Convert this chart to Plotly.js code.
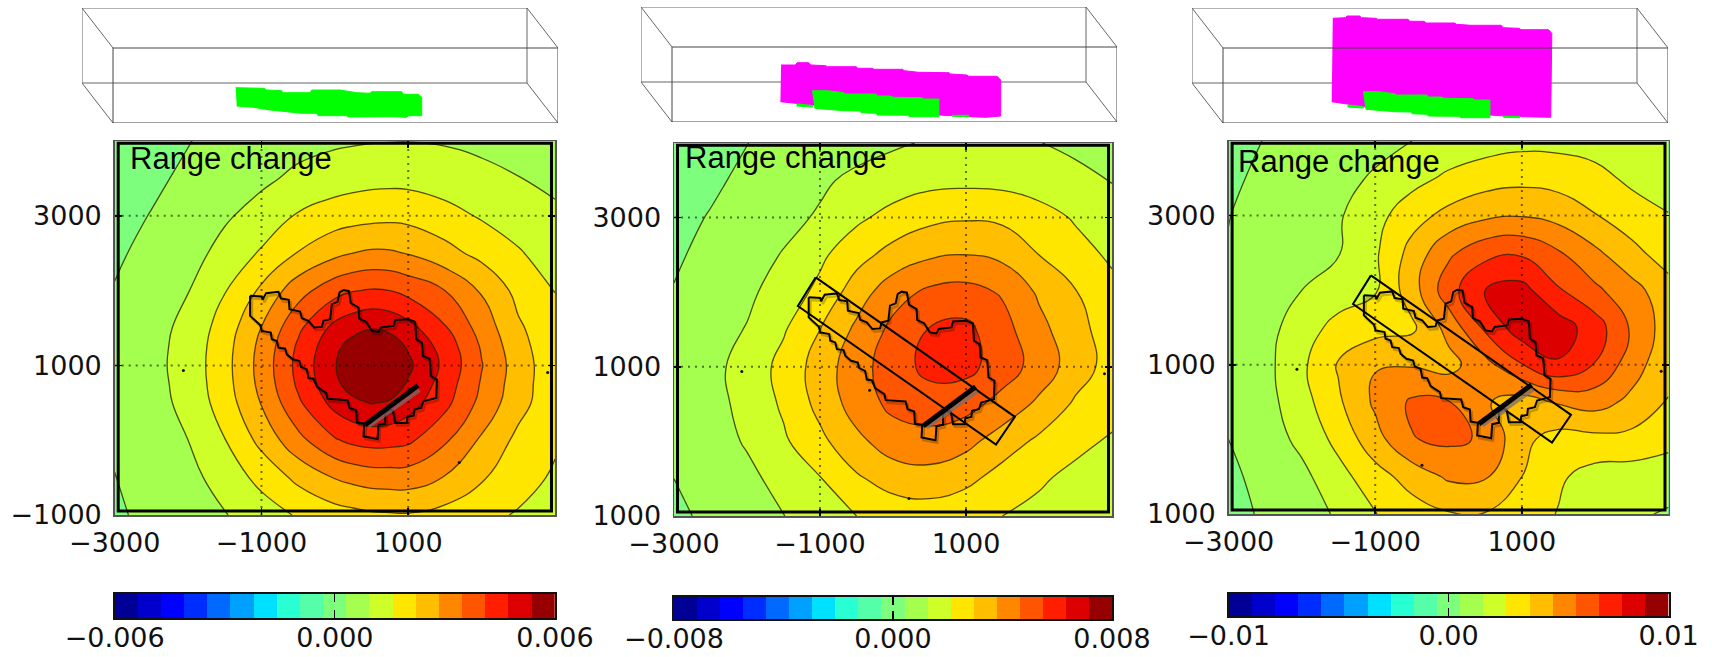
<!DOCTYPE html>
<html><head><meta charset="utf-8">
<style>html,body{margin:0;padding:0;background:#fff}#c{width:1712px;height:657px}</style>
<script src="https://cdn.plot.ly/plotly-3.0.1.min.js"></script>
</head><body><div id="c"></div>
<script>
// ---------- data ----------
const gridX = [-3000,-2500,-2000,-1500,-1000,-500,0,500,1000,1500,2000,2500,3000];
const gridY = [-1000,-500,0,500,1000,1500,2000,2500,3000,3500,4000];
const gridXP1 = [-3000,-2500,-2000,-1500,-1000,-500,0,250,500,750,1000,1500,2000,2500,3000];
const gridYP1 = [-1000,-500,0,500,750,1000,1250,1500,2000,2500,3000,3500,4000];
// values in contour-level units (zero band = 0), converted with each panel's level step
const levelsP1 = [
[0.35,0.75,1.05,1.45,2.0,2.6,3.05,3.2,3.35,3.4,3.42,3.15,2.8,2.4,2.0],
[0.48,0.85,1.2,1.92,2.8,3.75,4.55,4.8,4.97,5.0,5.0,4.45,3.6,2.95,2.35],
[0.62,1.0,1.5,2.47,3.79,5.2,6.4,6.75,6.9,6.85,6.7,5.65,4.35,3.25,2.65],
[0.75,1.1,1.8,2.97,4.56,6.33,7.85,8.3,8.55,8.4,7.95,6.8,5.2,3.85,2.85],
[0.8,1.15,1.87,3.1,4.79,6.67,8.3,8.9,9.25,9.05,8.4,7.05,5.4,3.95,2.85],
[0.85,1.2,1.9,3.15,4.87,6.8,8.45,9.15,9.55,9.35,8.7,7.27,5.55,4.0,2.85],
[0.8,1.17,1.87,3.1,4.78,6.66,8.28,8.87,9.2,9.0,8.4,7.1,5.4,3.85,2.82],
[0.72,1.12,1.79,2.95,4.53,6.3,7.8,8.2,8.45,8.3,7.85,6.6,5.1,3.65,2.8],
[0.55,1.02,1.47,2.45,3.68,5.1,6.15,6.45,6.58,6.5,6.2,5.5,4.4,3.2,2.48],
[0.35,0.78,1.15,1.8,2.62,3.55,4.25,4.5,4.65,4.62,4.45,3.85,3.2,2.6,2.0],
[0.15,0.54,0.95,1.38,1.85,2.6,3.0,3.12,3.2,3.25,3.2,2.85,2.4,2.0,1.7],
[-0.1,0.3,0.7,1.0,1.32,1.7,2.0,2.12,2.2,2.22,2.2,2.0,1.8,1.53,1.25],
[-0.3,0.1,0.47,0.75,1.0,1.2,1.35,1.4,1.45,1.47,1.48,1.42,1.25,1.1,0.95]];
const levelsP2 = [
[0.3,0.7,1.05,1.48,2.0,2.5,2.85,2.98,2.8,2.5,2.2,1.95,1.7],
[0.5,0.9,1.25,1.85,2.45,3.35,3.95,4.1,3.75,3.1,2.65,2.2,1.8],
[0.65,1.05,1.6,2.35,3.25,4.25,5.0,5.15,4.8,4.0,3.3,2.8,2.35],
[0.8,1.15,1.8,2.65,3.8,4.95,5.75,6.0,5.85,5.15,4.3,3.35,2.95],
[0.85,1.2,1.9,2.8,3.95,5.1,6.0,6.8,6.8,6.0,5.1,4.0,3.1],
[0.7,1.1,1.55,2.4,3.5,4.7,5.75,6.55,6.75,5.85,4.8,3.85,3.0],
[0.55,0.95,1.3,1.95,2.75,4.0,5.1,5.7,5.85,5.4,4.35,3.55,2.75],
[0.35,0.8,1.15,1.55,2.3,3.15,3.85,4.35,4.52,4.25,3.5,2.85,2.35],
[0.25,0.55,0.9,1.25,1.6,2.3,2.85,3.25,3.4,3.3,2.9,2.4,2.05],
[0.1,0.35,0.68,0.98,1.35,1.7,1.95,2.2,2.25,2.2,2.0,1.75,1.45],
[0.0,0.25,0.49,0.72,0.95,1.15,1.38,1.58,1.65,1.62,1.52,1.3,1.1]];
const levelsP3 = [
[0.15,0.65,1.15,1.6,2.47,3.05,3.42,3.45,3.0,2.45,2.05,1.65,1.4],
[0.3,0.8,1.25,2.15,3.1,3.9,4.65,4.6,3.5,2.65,2.1,2.0,1.95],
[0.5,1.0,1.75,2.8,4.12,5.45,5.7,5.38,3.75,3.1,3.2,3.2,2.8],
[0.65,1.15,2.1,3.35,4.68,5.65,5.55,4.6,4.05,4.6,4.9,4.25,3.45],
[0.7,1.2,2.3,3.6,4.45,4.42,4.15,5.15,6.45,7.4,6.45,4.95,3.8],
[0.7,1.15,2.0,2.85,3.1,3.3,4.85,6.7,8.1,8.0,7.0,5.35,4.0],
[0.6,1.0,1.5,1.95,2.4,4.05,6.1,7.5,7.85,6.6,5.7,4.85,3.9],
[0.55,0.85,1.15,1.45,2.35,3.85,5.3,6.2,6.35,5.6,4.7,3.8,3.0],
[0.48,0.8,1.1,1.4,2.15,3.1,3.8,4.3,4.45,4.15,3.55,2.95,2.55],
[0.35,0.68,0.95,1.25,1.6,2.15,2.7,3.05,3.2,3.1,2.8,2.3,1.95],
[0.2,0.53,0.8,1.03,1.25,1.5,1.8,2.05,2.22,2.2,2.1,1.9,1.7]];
const bandIndex = [-9,-8,-7,-6,-5,-4,-3,-2,-1,0,1,2,3,4,5,6,7,8,9];
const bandColors = ['rgb(0,0,150)','rgb(0,0,205)','rgb(0,0,255)','rgb(0,45,255)','rgb(0,105,255)','rgb(0,160,255)','rgb(0,225,255)','rgb(40,255,210)','rgb(85,255,170)','rgb(125,255,125)','rgb(165,255,78)','rgb(207,255,40)','rgb(255,230,0)','rgb(255,190,0)','rgb(255,135,0)','rgb(255,85,0)','rgb(255,30,0)','rgb(220,0,0)','rgb(150,0,0)'];
const panelMax = [0.006,0.008,0.01];
const barTickLabels = [['−0.006','0.000','0.006'],['−0.008','0.000','0.008'],['−0.01','0.00','0.01']];
const axisTicksX = [-3000,-1000,1000];
const axisTextX = ['−3000','−1000','1000'];
const axisTicksY = [-1000,1000,3000];
const axisTextY = [['−1000','1000','3000'],['1000','1000','3000'],['1000','1000','3000']];
const titleText = 'Range change';
const outlineX = [-1155,-995,-986,-936,-768,-736,-627,-618,-473,-450,-359,-282,-177,-155,-64,-41,36,64,118,191,218,323,332,427,505,595,627,800,823,1005,1095,1109,1186,1200,1291,1309,1391,1382,1209,1177,1082,1073,991,982,823,791,755,686,686,595,582,414,391,400,300,291,200,173,-100,-118,-245,-291,-359,-382,-464,-482,-573,-655,-677,-768,-791,-859,-873,-995,-1018,-1155,-1155];
const outlineY = [1931,1922,1877,1966,1984,1895,1877,1752,1720,1631,1595,1506,1515,1595,1617,1819,1850,1975,2007,1993,1832,1774,1626,1582,1461,1447,1506,1528,1608,1617,1582,1349,1304,1125,1089,857,812,566,521,432,409,329,311,230,230,400,409,365,222,204,16,43,52,222,239,400,432,535,553,633,714,821,830,946,982,1058,1081,1148,1224,1237,1327,1349,1438,1461,1541,1662,1931];
const faultLineX = [414,1132];
const faultLineY = [208,732];
const faultShadeX = [459,1155];
const faultShadeY = [186,669];
const rectX = [-1059,-1303,1411,1670,-1059];
const rectY = [2199,1814,-42,329,2199];
const dotsX = [[-2064,2900,1695],[-2071,2897,218,-320],[-2068,2900,-363]];
const dotsY = [[933,906,-297],[937,906,-767,687],[942,915,-347]];
const boxBackX = [0,445,445,0,0,null,0,31,null,445,476,null,445,476,null,0,31];
const boxBackY = [0,0,75,75,0,null,0,40,null,0,40,null,75,115,null,75,115];
const boxFrontX = [31,476,476,31,31];
const boxFrontY = [40,40,115,115,40];
const greenP1X = [153.7,182,184.7,199.7,200.7,228,229.7,258,274.7,288,289.7,319.7,321.3,336.3,339.7,339.7,326.3,324.7,311.3,296.3,266.3,264.7,236.3,234.7,219.7,204.7,188,171.3,154.7];
const greenP1Y = [79.7,80.3,82,82.7,84.7,84.7,82,82,84.7,85.3,83.7,83.7,86.3,86.3,89.3,107.7,107.7,109.3,108.7,108.7,109,107.7,107.7,105.3,105.3,103.7,102,99.3,98];
const greenRestX = [171.5,186.5,202.6,204.4,234.7,236.5,249,252.6,281.1,282.9,297.9,297.9,268.6,266.9,236.5,234.7,220.4,218.6,202.6,174,171.5,null,156,171.5,171.5,156,156,null,311.5,327.6,327.6,311.5,311.5];
const greenRestY = [83.7,83.7,85.7,87,87,89,89,90.3,90.7,92,92,109.7,109.7,108.3,108,106.3,105.7,104,103.7,101.3,83.7,null,97,98.5,100,99,97,null,108.3,108.3,109.7,109.3,108.3];
const magentaP2X = [140.1,154.4,156.1,167.6,169.7,184.7,186.5,215.1,216.9,231.1,232.9,261.5,263.3,277.6,307.9,309.7,325.8,327.6,356.1,359.7,359.7,344.7,327.6,311.5,297.9,171.5,156.1,139.4];
const magentaP2Y = [58,58,55.7,55.7,58,58.7,59.7,59.7,61.3,61.3,62.3,62.3,63.7,65.3,65.7,67,68,69.3,69.3,73,109,110.3,109.7,109,108,98,96.3,94.7];
const magentaP3X = [140.8,153.3,155.1,167.7,169.5,183.8,185.6,216.1,217.9,232.2,234,262.7,264.5,278.8,309.3,311,327.2,329,356.6,359.8,358.7,343.3,327.2,312.8,297.4,172,155.1,139.7];
const magentaP3Y = [10.3,9.7,8,8,9.7,10.3,11.3,11.3,13.3,13.3,15,15,16.3,17.3,17.3,19.7,20.3,21.7,21.7,25.3,109.3,109.3,108.7,108,107,98.7,96,93.7];

// ---------- layout geometry (pixels) ----------
const W = 1712, H = 657;
const plots = [{l:114.7,r:555,t:141,b:515},{l:674,r:1112,t:143,b:516},{l:1228.6,r:1668.5,t:141,b:514}];
const bars  = [{l:114.7,r:555,t:594,b:618},{l:674,r:1112,t:597,b:619},{l:1228.6,r:1668.5,t:594,b:616}];
const boxes = [{l:82,t:8},{l:641,t:7},{l:1192,t:8}];
const titles = [{x:-2825,y:3770},{x:-2880,y:3810},{x:-2905,y:3720}];
const dx = p => [p.l/W, p.r/W], dy = p => [1-p.b/H, 1-p.t/H];
const FONT = 'DejaVu Sans, sans-serif';
const tickFont = {family:FONT,size:27,color:'#111'};

// discrete colour scale with one flat step per band
const scale = [];
bandColors.forEach((c,i)=>{scale.push([i/19,c]);scale.push([(i+1)/19,c]);});

const traces = [], layout = {
  width:W,height:H,margin:{l:0,r:0,t:0,b:0},paper_bgcolor:'#fff',plot_bgcolor:'#fff',showlegend:false,
  annotations:[],shapes:[]
};
const line = (x,y,xa,ya,extra)=>Object.assign({type:'scatter',mode:'lines',x,y,xaxis:xa,yaxis:ya,hoverinfo:'skip'},extra);

[levelsP1,levelsP2,levelsP3].forEach((lv,i)=>{
  const n = i+1, xa='x'+(n===1?'':n), ya='y'+(n===1?'':n);
  const step = 2*panelMax[i]/19;
  traces.push({type:'contour',x:i===0?gridXP1:gridX,y:i===0?gridYP1:gridY,z:lv.map(r=>r.map(v=>v*step)),xaxis:xa,yaxis:ya,
    autocontour:false,contours:{start:-8.5*step,end:8.5*step,size:step,coloring:'fill',showlines:true},
    colorscale:scale,showscale:false,line:{color:'rgba(45,35,0,0.8)',width:1.3,smoothing:1.3},hoverinfo:'skip'});
  // dotted grid
  axisTicksX.slice(1).forEach(v=>traces.push(line([v,v],[-1000,4000],xa,ya,{line:{color:'rgba(0,0,0,0.55)',width:2,dash:'2px,5px'}})));
  axisTicksY.slice(1).forEach(v=>traces.push(line([-3000,3000],[v,v],xa,ya,{line:{color:'rgba(0,0,0,0.55)',width:2,dash:'2px,5px'}})));
  traces.push({type:'scatter',mode:'markers',x:dotsX[i],y:dotsY[i],xaxis:xa,yaxis:ya,marker:{size:3,color:'#111'},hoverinfo:'skip'});
  // outline of slip patch, soft shadow then line
  traces.push(line(outlineX.map(v=>v+25),outlineY.map(v=>v-35),xa,ya,{line:{color:'rgba(0,0,0,0.22)',width:2.5}}));
  traces.push(line(outlineX,outlineY,xa,ya,{line:{color:'#000',width:2}}));
  if(i>0) traces.push(line(rectX,rectY,xa,ya,{line:{color:'#000',width:2}}));
  traces.push(line(faultShadeX,faultShadeY,xa,ya,{line:{color:'rgba(120,110,110,0.75)',width:4}}));
  traces.push(line(faultLineX,faultLineY,xa,ya,{line:{color:'#000',width:5}}));

  layout['xaxis'+(n===1?'':n)] = {domain:dx(plots[i]),range:[-3000,3000],anchor:ya,tickvals:axisTicksX,ticktext:axisTextX,
    ticks:'inside',ticklen:7,tickwidth:1.5,tickcolor:'#000',showgrid:false,zeroline:false,showline:true,linecolor:'#555',linewidth:1.5,mirror:'ticks',
    tickfont:tickFont,ticklabelstandoff:3,fixedrange:true};
  layout['yaxis'+(n===1?'':n)] = {domain:dy(plots[i]),range:[-1000,4000],anchor:xa,tickvals:axisTicksY,ticktext:axisTextY[i],
    ticks:'inside',ticklen:7,tickwidth:1.5,tickcolor:'#000',showgrid:false,zeroline:false,showline:true,linecolor:'#555',linewidth:1.5,mirror:'ticks',
    tickfont:tickFont,ticklabelstandoff:6,fixedrange:true};
  layout.shapes.push({type:'rect',xref:xa+' domain',yref:ya+' domain',x0:0.008,x1:0.992,y0:0.011,y1:0.994,line:{color:'#000',width:3},layer:'above'});
  layout.annotations.push({xref:xa,yref:ya,x:titles[i].x,y:titles[i].y,text:titleText,showarrow:false,xanchor:'left',yanchor:'middle',
    font:{family:'Liberation Sans, Arial, sans-serif',size:31,color:'#000'}});

  // colour bar
  const bn=n+3, bx='x'+bn, by='y'+bn, m=panelMax[i];
  const cells=bandIndex.map(k=>k*step);
  traces.push({type:'heatmap',x:cells,y:[0],z:[cells],xaxis:bx,yaxis:by,colorscale:scale,zmin:-m,zmax:m,showscale:false,hoverinfo:'skip'});
  layout['xaxis'+bn]={domain:dx(bars[i]),range:[-m,m],anchor:by,tickvals:[-m,0,m],ticktext:barTickLabels[i],ticks:'inside',ticklen:8,tickwidth:1.2,tickcolor:'#000',
    showgrid:false,zeroline:false,showline:true,linecolor:'#111',linewidth:2,mirror:'ticks',tickfont:tickFont,ticklabelstandoff:-5,fixedrange:true};
  layout['yaxis'+bn]={domain:dy(bars[i]),range:[-0.5,0.5],anchor:bx,showticklabels:false,ticks:'',showgrid:false,zeroline:false,showline:true,linecolor:'#111',linewidth:2,mirror:true,fixedrange:true};

  // wireframe box
  const wn=n+6, wx='x'+wn, wy='y'+wn, b=boxes[i];
  traces.push(line(boxBackX,boxBackY,wx,wy,{line:{color:'#666',width:1},connectgaps:false}));
  if(i===0){
    traces.push(line(greenP1X,greenP1Y,wx,wy,{fill:'toself',fillcolor:'#00ff00',line:{color:'#00ff00',width:1}}));
  } else {
    traces.push(line(i===1?magentaP2X:magentaP3X,i===1?magentaP2Y:magentaP3Y,wx,wy,{fill:'toself',fillcolor:'#ff00ff',line:{color:'#ff00ff',width:1}}));
    traces.push(line(greenRestX,greenRestY,wx,wy,{fill:'toself',fillcolor:'#00ff00',line:{color:'#00ff00',width:1}}));
  }
  traces.push(line(boxFrontX,boxFrontY,wx,wy,{line:{color:'#444',width:1}}));
  layout['xaxis'+wn]={domain:[b.l/W,(b.l+476)/W],range:[0,476],anchor:wy,visible:false,fixedrange:true};
  layout['yaxis'+wn]={domain:[1-(b.t+115)/H,1-b.t/H],range:[115,0],anchor:wx,visible:false,fixedrange:true};
});
Plotly.newPlot('c',traces,layout,{staticPlot:true,displayModeBar:false});
</script></body></html>
